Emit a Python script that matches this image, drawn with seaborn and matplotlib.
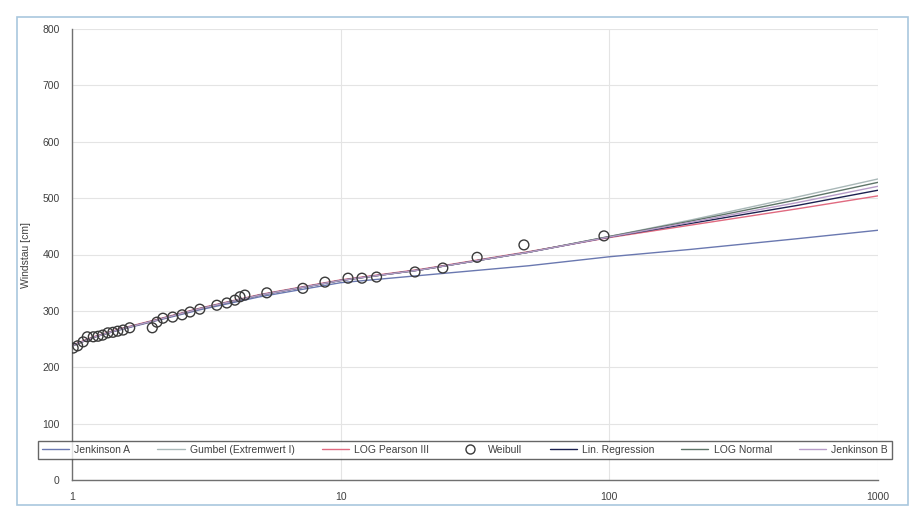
import numpy as np
import pandas as pd
import matplotlib
matplotlib.use("Agg")
import matplotlib.pyplot as plt
from matplotlib.lines import Line2D
from matplotlib.patches import Rectangle
from matplotlib.ticker import FixedLocator, FixedFormatter, NullLocator
import seaborn as sns

# Return periods (years) at which the fitted curves are tabulated
T_curve = [1.0, 1.2, 1.5, 2, 3, 5, 10, 20, 50, 100, 200, 500, 1000]

# Fitted surge heights [cm] per distribution
jenkinson_a = [238, 253, 266, 281, 302, 325, 350, 363, 380, 396, 409, 428, 443]
gumbel      = [237, 253, 267, 282, 304, 328, 354, 373, 404, 432, 461, 502, 534]
log_pearson = [239, 254, 268, 283, 305, 329, 355, 374, 405, 430, 452, 481, 504]
lin_regr    = [238, 253, 267, 282, 304, 328, 354, 373, 404, 431, 455, 487, 514]
log_normal  = [238, 253, 267, 282, 304, 328, 354, 373, 404, 432, 459, 497, 528]
jenkinson_b = [238, 253, 267, 282, 304, 328, 354, 373, 404, 431, 457, 492, 521]

# Empirical Weibull plotting positions
T_weibull = [1.01, 1.05, 1.10, 1.14, 1.20, 1.25, 1.30, 1.36, 1.42, 1.48, 1.55, 1.64,
             1.99, 2.07, 2.18, 2.37, 2.57, 2.75, 2.99, 3.46, 3.77, 4.04, 4.22, 4.40,
             5.31, 7.23, 8.74, 10.65, 12.0, 13.6, 18.9, 24.0, 32.2, 48.1, 95.5]
h_weibull = [234, 238, 245, 254, 254, 255, 257, 261, 262, 264, 266, 270,
             270, 280, 287, 289, 293, 298, 303, 310, 314, 319, 325, 328,
             332, 340, 351, 358, 358, 360, 369, 376, 395, 417, 433]

series_names = ["Jenkinson A", "Gumbel (Extremwert I)", "LOG Pearson III",
                "Lin. Regression", "LOG Normal", "Jenkinson B"]
series_vals = [jenkinson_a, gumbel, log_pearson, lin_regr, log_normal, jenkinson_b]
colors = {
    "Jenkinson A": "#6a78b0",
    "Gumbel (Extremwert I)": "#a9b8b8",
    "LOG Pearson III": "#e06a80",
    "Lin. Regression": "#1c2150",
    "LOG Normal": "#5e7468",
    "Jenkinson B": "#b79cc8",
}

curves = pd.DataFrame({
    "T": np.tile(T_curve, len(series_names)),
    "h": np.concatenate(series_vals),
    "Verteilung": np.repeat(series_names, len(T_curve)),
})
weibull = pd.DataFrame({"T": T_weibull, "h": h_weibull})

sns.set_style("white")
plt.rcParams["font.family"] = ["Liberation Sans", "DejaVu Sans"]

fig = plt.figure(figsize=(9.13, 5.07), dpi=100)
ax = fig.add_axes([72 / 913, 1 - 480 / 507, (878 - 72) / 913, (480 - 29) / 507])

sns.lineplot(data=curves, x="T", y="h", hue="Verteilung", palette=colors,
             hue_order=series_names, linewidth=1.0, ax=ax, legend=False,
             estimator=None, sort=False)
sns.scatterplot(data=weibull, x="T", y="h", ax=ax, marker="o", s=50,
                facecolor="none", edgecolor="#3a3a3a", linewidth=1.0,
                legend=False, zorder=5)

ax.set_xscale("log")
ax.set_xlim(1, 1000)
ax.set_ylim(0, 800)
ax.xaxis.set_major_locator(FixedLocator([1, 10, 100, 1000]))
ax.xaxis.set_major_formatter(FixedFormatter(["1", "10", "100", "1000"]))
ax.xaxis.set_minor_locator(NullLocator())
ax.set_yticks(range(0, 801, 100))
ax.grid(True, color="#e4e4e4", linewidth=0.8)
ax.set_axisbelow(True)
for s in ["top", "right"]:
    ax.spines[s].set_visible(False)
for s in ["left", "bottom"]:
    ax.spines[s].set_color("#707070")
    ax.spines[s].set_linewidth(1.0)
ax.tick_params(axis="both", which="major", direction="out", length=3,
               width=0.8, color="#707070", labelsize=7.5, labelcolor="#404040", pad=6)
ax.set_xlabel("")
ax.set_ylabel("Windstau [cm]", fontsize=7.5, color="#404040", labelpad=8)

# Legend spanning the whole chart width
handles = []
for name in series_names[:3]:
    handles.append(Line2D([], [], color=colors[name], lw=1.0, label=name))
handles.append(Line2D([], [], ls="none", marker="o", markersize=6.5,
                      markerfacecolor="none", markeredgecolor="#3a3a3a", label="Weibull"))
for name in series_names[3:]:
    handles.append(Line2D([], [], color=colors[name], lw=1.0, label=name))
leg = fig.legend(handles=handles, loc="center", ncol=7,
                 bbox_to_anchor=(465 / 913, 1 - 450 / 507), frameon=True,
                 fontsize=7.5, handlelength=2.6, columnspacing=2.6,
                 handletextpad=0.5, borderpad=0.35, fancybox=False)
leg.get_frame().set_edgecolor("#404040")
leg.get_frame().set_linewidth(1.0)
for t in leg.get_texts():
    t.set_color("#404040")

# Outer chart frame
fig.patches.append(Rectangle((17 / 913, 2 / 507), (908 - 17) / 913, (490 - 2) / 507,
                             transform=fig.transFigure, fill=False,
                             edgecolor="#a9c7de", linewidth=1.2))

fig.savefig("out.png", dpi=100)
